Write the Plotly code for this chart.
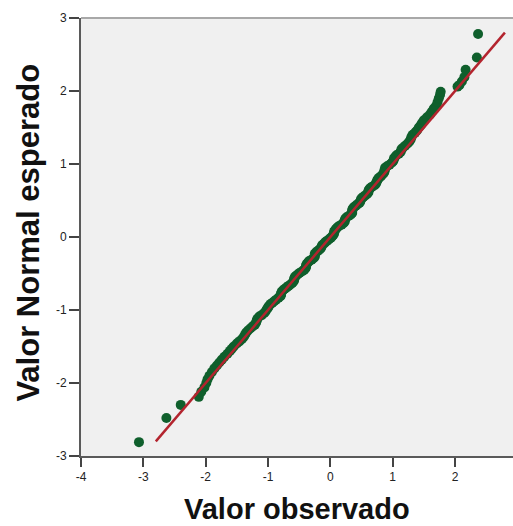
import plotly.graph_objects as go

observado = [
    -3.07, -2.63, -2.40, -2.11, -2.07, -2.02, -1.99, -1.97, -1.94, -1.90,
    -1.86, -1.82, -1.78, -1.74, -1.70, -1.65, -1.61, -1.58, -1.55, -1.50,
    -1.46, -1.42, -1.39, -1.37, -1.35, -1.32, -1.28, -1.24, -1.21, -1.19,
    -1.18, -1.17, -1.14, -1.10, -1.06, -1.04, -1.02, -1.00, -0.99, -0.96,
    -0.93, -0.90, -0.87, -0.83, -0.80, -0.79, -0.79, -0.78, -0.76, -0.73,
    -0.70, -0.67, -0.64, -0.61, -0.59, -0.58, -0.58, -0.57, -0.55, -0.52,
    -0.49, -0.45, -0.42, -0.40, -0.39, -0.39, -0.38, -0.36, -0.34, -0.30,
    -0.27, -0.25, -0.25, -0.25, -0.23, -0.20, -0.17, -0.15, -0.14, -0.13,
    -0.10, -0.08, -0.05, -0.02, 0.01, 0.03, 0.05, 0.06, 0.06, 0.07,
    0.09, 0.11, 0.14, 0.18, 0.21, 0.23, 0.23, 0.24, 0.26, 0.30,
    0.33, 0.35, 0.35, 0.35, 0.36, 0.38, 0.41, 0.44, 0.47, 0.48,
    0.49, 0.50, 0.53, 0.56, 0.59, 0.61, 0.61, 0.62, 0.64, 0.67,
    0.71, 0.73, 0.74, 0.75, 0.76, 0.78, 0.81, 0.84, 0.86, 0.87,
    0.87, 0.88, 0.91, 0.95, 0.99, 1.01, 1.02, 1.03, 1.06, 1.10,
    1.13, 1.14, 1.16, 1.20, 1.24, 1.27, 1.29, 1.30, 1.32, 1.36,
    1.39, 1.42, 1.45, 1.47, 1.50, 1.55, 1.60, 1.63, 1.66, 1.70,
    1.72, 1.74, 1.76, 1.77, 2.04, 2.07, 2.11, 2.15, 2.17, 2.35,
    2.37,
]
esperado = [
    -2.81, -2.48, -2.30, -2.19, -2.12, -2.06, -2.00, -1.95, -1.90, -1.85,
    -1.80, -1.76, -1.72, -1.68, -1.64, -1.60, -1.56, -1.53, -1.50, -1.46,
    -1.43, -1.40, -1.37, -1.34, -1.31, -1.28, -1.25, -1.22, -1.20, -1.17,
    -1.14, -1.12, -1.09, -1.07, -1.04, -1.02, -0.99, -0.97, -0.95, -0.92,
    -0.90, -0.88, -0.86, -0.83, -0.81, -0.79, -0.77, -0.75, -0.73, -0.71,
    -0.69, -0.67, -0.65, -0.63, -0.61, -0.59, -0.57, -0.55, -0.53, -0.51,
    -0.49, -0.47, -0.45, -0.43, -0.41, -0.39, -0.37, -0.35, -0.33, -0.31,
    -0.29, -0.27, -0.25, -0.23, -0.21, -0.19, -0.17, -0.15, -0.13, -0.11,
    -0.09, -0.07, -0.05, -0.03, -0.01, 0.01, 0.03, 0.05, 0.07, 0.09,
    0.11, 0.13, 0.15, 0.17, 0.19, 0.21, 0.23, 0.25, 0.27, 0.29,
    0.31, 0.33, 0.35, 0.37, 0.39, 0.41, 0.43, 0.45, 0.47, 0.49,
    0.51, 0.53, 0.55, 0.57, 0.59, 0.61, 0.63, 0.65, 0.67, 0.69,
    0.71, 0.73, 0.75, 0.77, 0.79, 0.81, 0.83, 0.86, 0.88, 0.90,
    0.92, 0.95, 0.97, 0.99, 1.02, 1.04, 1.07, 1.09, 1.12, 1.14,
    1.17, 1.20, 1.22, 1.25, 1.28, 1.31, 1.34, 1.37, 1.40, 1.43,
    1.46, 1.50, 1.53, 1.56, 1.60, 1.64, 1.68, 1.72, 1.76, 1.80,
    1.85, 1.90, 1.95, 1.99, 2.06, 2.08, 2.13, 2.19, 2.29, 2.46,
    2.78,
]

# Reference line endpoints
linea_x = [-2.8, 2.8]
linea_y = [-2.8, 2.8]

x_ticks = [-4, -3, -2, -1, 0, 1, 2]
y_ticks = [-3, -2, -1, 0, 1, 2, 3]

fig = go.Figure()
fig.add_trace(go.Scatter(
    x=observado, y=esperado, mode="markers",
    marker=dict(size=10, color="#0f5f2c", line=dict(width=0)),
    showlegend=False, hoverinfo="skip",
))
fig.add_trace(go.Scatter(
    x=linea_x, y=linea_y, mode="lines",
    line=dict(color="#b3242e", width=2.5),
    showlegend=False, hoverinfo="skip",
))

axis_font = dict(family="Liberation Sans, Arial, sans-serif", size=12, color="#222222")

fig.update_layout(
    width=513, height=526,
    margin=dict(l=81, r=0, t=18, b=70),
    paper_bgcolor="white",
    plot_bgcolor="#f0f0f0",
    xaxis=dict(
        range=[-4.0, 2.93], tickvals=x_ticks, ticktext=[str(v) for v in x_ticks],
        showgrid=False, zeroline=False, showline=True, linecolor="#5a5a5a", linewidth=2,
        ticks="outside", ticklen=9, tickwidth=1.5, tickcolor="#444444",
        tickfont=axis_font, automargin=False,
    ),
    yaxis=dict(
        range=[-3.0, 3.0], tickvals=y_ticks, ticktext=[str(v) for v in y_ticks],
        showgrid=False, zeroline=False, showline=True, linecolor="#5a5a5a", linewidth=2,
        ticks="outside", ticklen=10, tickwidth=1.5, tickcolor="#444444",
        tickfont=axis_font, automargin=False,
    ),
    shapes=[dict(type="line", xref="paper", yref="paper", x0=0, x1=1, y0=1, y1=1,
                 line=dict(color="#a8a8a8", width=2))],
    annotations=[
        dict(text="<b>Valor observado</b>", xref="paper", yref="paper",
             x=0.5, y=0, yshift=-53, xanchor="center", yanchor="middle", showarrow=False,
             font=dict(family="Liberation Sans, Arial, sans-serif", size=29, color="#111111")),
        dict(text="<b>Valor Normal esperado</b>", xref="paper", yref="paper",
             x=0, xshift=-52, y=0.51, xanchor="center", yanchor="middle", showarrow=False,
             textangle=-90,
             font=dict(family="Liberation Sans, Arial, sans-serif", size=31, color="#111111")),
    ],
)

fig.write_html("out.html", config={"displayModeBar": False},
               post_script="document.body.style.margin='0';")
